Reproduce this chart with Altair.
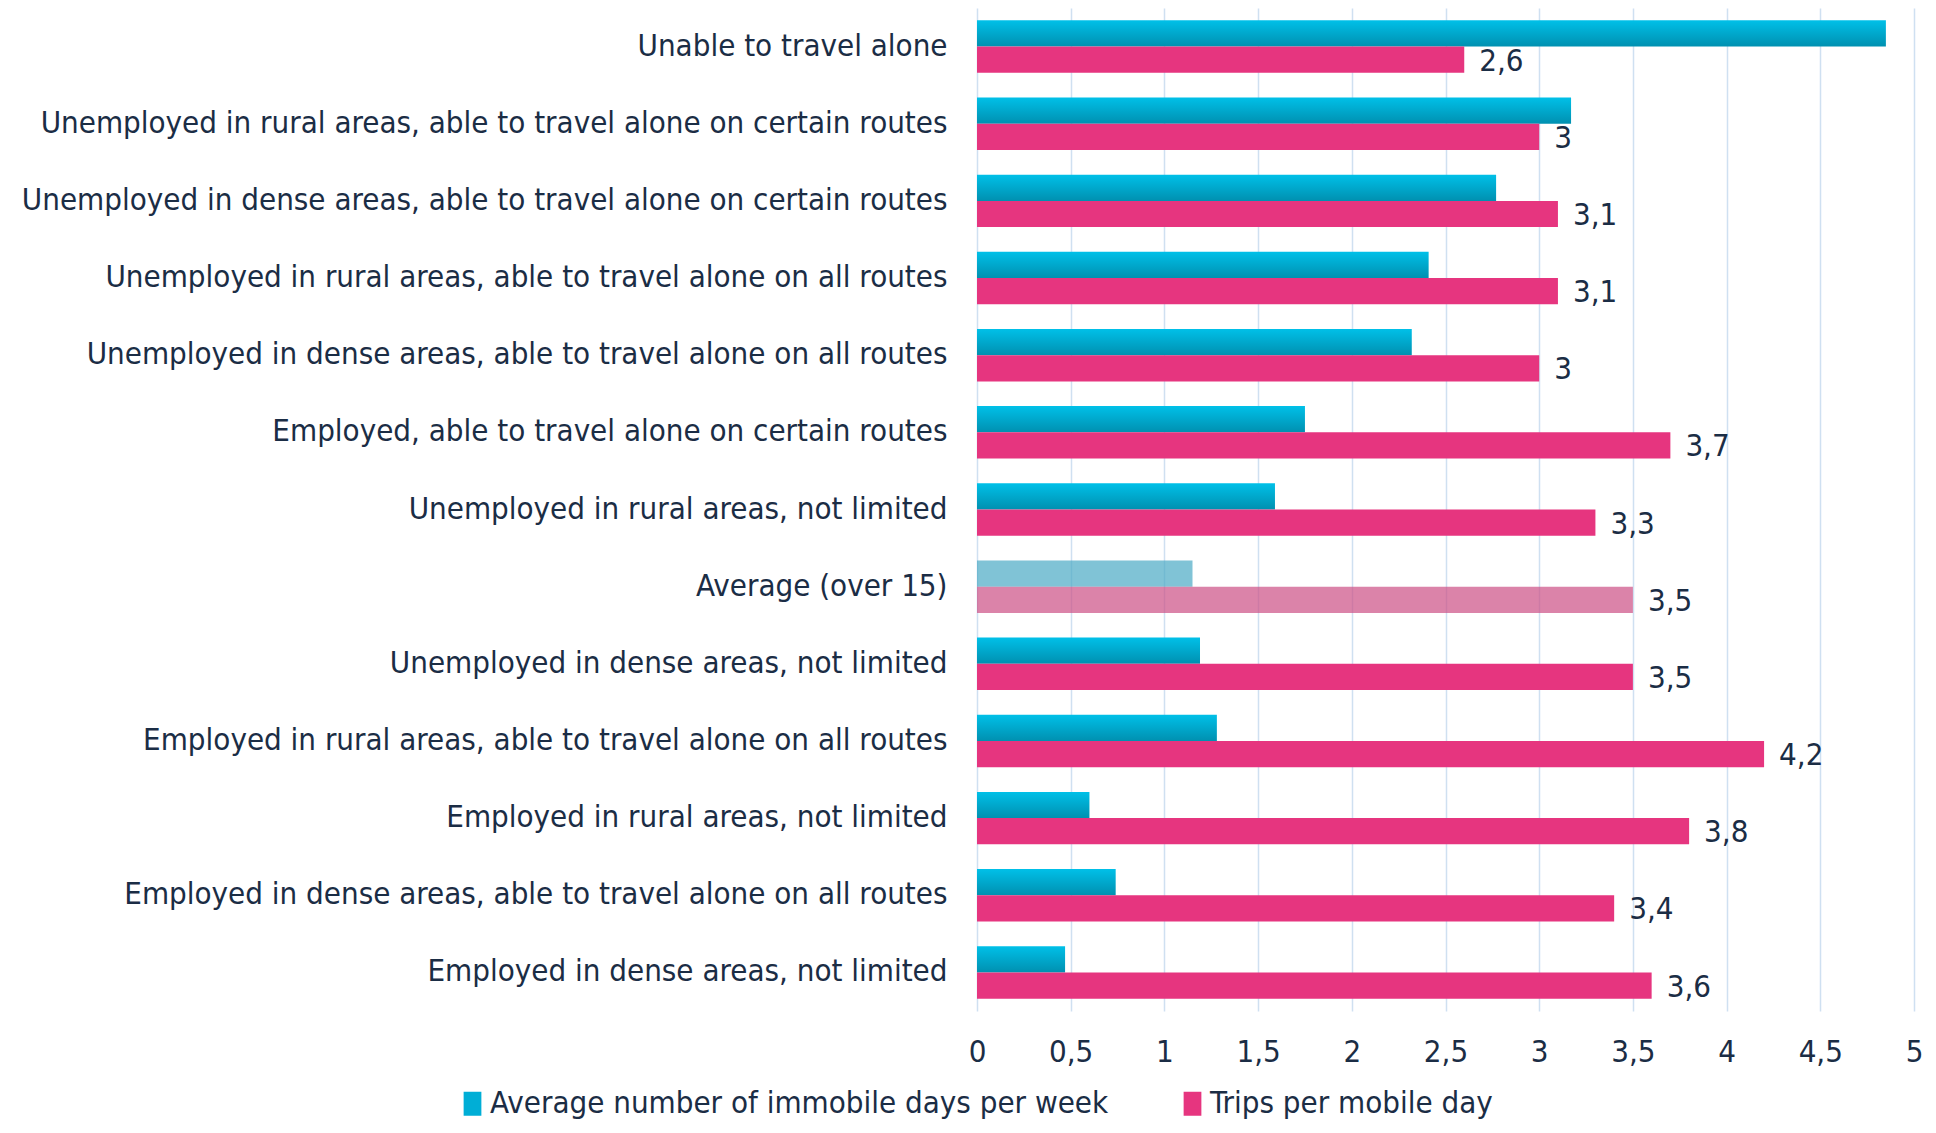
import altair as alt
import pandas as pd

categories = [
    "Unable to travel alone",
    "Unemployed in rural areas, able to travel alone on certain routes",
    "Unemployed in dense areas, able to travel alone on certain routes",
    "Unemployed in rural areas, able to travel alone on all routes",
    "Unemployed in dense areas, able to travel alone on all routes",
    "Employed, able to travel alone on certain routes",
    "Unemployed in rural areas, not limited",
    "Average (over 15)",
    "Unemployed in dense areas, not limited",
    "Employed in rural areas, able to travel alone on all routes",
    "Employed in rural areas, not limited",
    "Employed in dense areas, able to travel alone on all routes",
    "Employed in dense areas, not limited",
]
immobile_days = [4.85, 3.17, 2.77, 2.41, 2.32, 1.75, 1.59, 1.15, 1.19, 1.28, 0.60, 0.74, 0.47]
trips_per_day = [2.6, 3.0, 3.1, 3.1, 3.0, 3.7, 3.3, 3.5, 3.5, 4.2, 3.8, 3.4, 3.6]
series_names = ["Average number of immobile days per week", "Trips per mobile day"]
x_ticks = [0, 0.5, 1, 1.5, 2, 2.5, 3, 3.5, 4, 4.5, 5]
AVG = "Average (over 15)"

rows = []
for c, a, b in zip(categories, immobile_days, trips_per_day):
    rows.append({"category": c, "series": series_names[0], "value": a})
    rows.append({"category": c, "series": series_names[1], "value": b})
df = pd.DataFrame(rows)

FONT = "DejaVu Sans Condensed, DejaVu Sans, sans-serif"
TEXT = "#1B2D45"
BLUE = "#00AED6"
PINK = "#E6357F"
FS = 31

blue_grad = alt.Gradient(
    gradient="linear",
    stops=[alt.GradientStop(color="#00C0E8", offset=0), alt.GradientStop(color="#0090B0", offset=1)],
    x1=0, x2=0, y1=0, y2=1,
)

y_enc = alt.Y(
    "category:N",
    sort=categories,
    scale=alt.Scale(domain=categories, paddingInner=0.32, paddingOuter=0.16),
    axis=alt.Axis(title=None, domain=False, ticks=False, labelFontSize=FS, labelPadding=30,
                  labelLimit=1200, labelColor=TEXT, labelFont=FONT, grid=False),
)
yoff = alt.YOffset("series:N", scale=alt.Scale(domain=series_names, paddingInner=0, paddingOuter=0))
x_enc = alt.X(
    "value:Q",
    scale=alt.Scale(domain=[0, 5], nice=False),
    axis=alt.Axis(title=None, values=x_ticks, labelExpr="replace(toString(datum.value), '.', ',')",
                  domain=False, ticks=False, grid=True, gridColor="#CFE0F1", gridWidth=1.5,
                  labelFlush=False, labelFontSize=FS, labelPadding=26, labelColor=TEXT, labelFont=FONT),
)

base = alt.Chart(df)
s0 = f"datum.series == '{series_names[0]}'"
s1 = f"datum.series == '{series_names[1]}'"
isavg = f"datum.category == '{AVG}'"
notavg = f"datum.category != '{AVG}'"

blue = base.transform_filter(f"{s0} && {notavg}").mark_bar(color=blue_grad).encode(x=x_enc, y=y_enc, yOffset=yoff)
blue_avg = base.transform_filter(f"{s0} && {isavg}").mark_bar(color="#4AA9C4", opacity=0.7).encode(x=x_enc, y=y_enc, yOffset=yoff)
pink = base.transform_filter(f"{s1} && {notavg}").mark_bar(color=PINK).encode(x=x_enc, y=y_enc, yOffset=yoff)
pink_avg = base.transform_filter(f"{s1} && {isavg}").mark_bar(color="#CC4F84", opacity=0.7).encode(x=x_enc, y=y_enc, yOffset=yoff)

labels = (
    base.transform_filter(s1)
    .transform_calculate(label="replace(toString(datum.value), '.', ',')")
    .mark_text(align="left", baseline="middle", dx=15, dy=2, fontSize=FS, color=TEXT, font=FONT)
    .encode(x=x_enc, y=y_enc, yOffset=yoff, text="label:N")
)

legend_layer = base.mark_square(opacity=0, size=1).encode(
    x=x_enc, y=y_enc, yOffset=yoff,
    color=alt.Color(
        "series:N",
        scale=alt.Scale(domain=series_names, range=[BLUE, PINK]),
        legend=alt.Legend(
            title=None, orient="none", legendX=-520, legendY=1080, direction="horizontal",
            symbolType="M-0.74,-1H0.74V1H-0.74Z", symbolSize=576, symbolOpacity=1,
            symbolStrokeWidth=0, labelFontSize=FS, labelColor=TEXT, labelFont=FONT,
            labelLimit=1200, labelOffset=2, columnPadding=68,
        ),
    ),
)

chart = (
    alt.layer(blue, blue_avg, pink, pink_avg, labels, legend_layer)
    .properties(
        width=937, height=1003,
        padding={"left": 969, "top": 0, "right": 14, "bottom": 114},
        autosize=alt.AutoSizeParams(type="none"),
    )
    .configure_view(stroke=None)
)

chart.save("out.html", embed_options={"renderer": "svg", "actions": False})
